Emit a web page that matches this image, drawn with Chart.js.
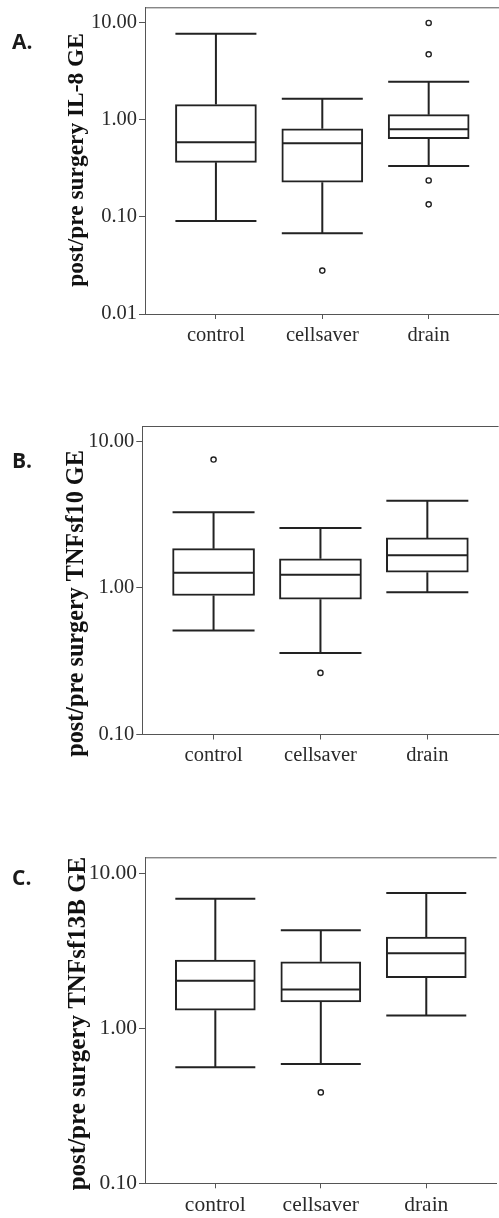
<!DOCTYPE html>
<html>
<head>
<meta charset="utf-8">
<script src="https://cdn.jsdelivr.net/npm/chart.js@4.4.1/dist/chart.umd.min.js"></script>
<style>
  html, body { margin: 0; padding: 0; background: #fff; }
  body { width: 499px; height: 1218px; overflow: hidden; position: relative; }
  canvas { position: absolute; left: 0; }
</style>
</head>
<body>
<canvas id="chartA" width="505" height="360" style="top:0px"></canvas>
<canvas id="chartB" width="504" height="381" style="top:400px"></canvas>
<canvas id="chartC" width="502" height="378" style="top:840px"></canvas>
<script>
const categories = ['control', 'cellsaver', 'drain'];
const ticksA = [0.01, 0.1, 1, 10];
const ticksBC = [0.1, 1, 10];

// A. IL-8
const il8Low = [0.091, 0.068, 0.336];
const il8Q1 = [0.366, 0.228, 0.64];
const il8Median = [0.59, 0.575, 0.80];
const il8Q3 = [1.44, 0.81, 1.135];
const il8High = [7.76, 1.65, 2.48];
const il8Outliers = [['cellsaver', 0.028], ['drain', 10.0], ['drain', 4.75], ['drain', 0.238], ['drain', 0.135]];

// B. TNFsf10
const tnf10Low = [0.512, 0.36, 0.934];
const tnf10Q1 = [0.887, 0.837, 1.28];
const tnf10Median = [1.27, 1.23, 1.67];
const tnf10Q3 = [1.85, 1.58, 2.19];
const tnf10High = [3.28, 2.56, 3.92];
const tnf10Outliers = [['control', 7.5], ['cellsaver', 0.263]];

// C. TNFsf13B
const tnf13bLow = [0.56, 0.589, 1.21];
const tnf13bQ1 = [1.31, 1.48, 2.12];
const tnf13bMedian = [2.03, 1.78, 3.05];
const tnf13bQ3 = [2.76, 2.69, 3.88];
const tnf13bHigh = [6.87, 4.29, 7.47];
const tnf13bOutliers = [['cellsaver', 0.386]];

const axisColor = '#555';
const lineColor = '#222';
const textColor = '#2a2a2a';

// whiskers, medians, top frame line, y title and panel letter
const boxExtras = {
  id: 'boxExtras',
  afterDatasetsDraw(chart, args, opts) {
    const {ctx, chartArea, scales: {x, y}} = chart;
    ctx.save();
    ctx.strokeStyle = axisColor;
    ctx.lineWidth = 1;
    ctx.beginPath();
    ctx.moveTo(chartArea.left, chartArea.top + 0.5);
    ctx.lineTo(chartArea.right, chartArea.top + 0.5);
    ctx.stroke();

    ctx.strokeStyle = lineColor;
    ctx.lineWidth = 2;
    const half = opts.boxWidth / 2;
    categories.forEach((c, i) => {
      const cx = x.getPixelForValue(i + 1);
      const pLow = y.getPixelForValue(opts.low[i]);
      const pQ1 = y.getPixelForValue(opts.q1[i]);
      const pMed = y.getPixelForValue(opts.median[i]);
      const pQ3 = y.getPixelForValue(opts.q3[i]);
      const pHigh = y.getPixelForValue(opts.high[i]);
      ctx.beginPath();
      ctx.moveTo(cx, pQ3); ctx.lineTo(cx, pHigh);
      ctx.moveTo(cx, pQ1); ctx.lineTo(cx, pLow);
      ctx.moveTo(cx - half, pHigh); ctx.lineTo(cx + half, pHigh);
      ctx.moveTo(cx - half, pLow); ctx.lineTo(cx + half, pLow);
      ctx.moveTo(cx - half + 1, pMed); ctx.lineTo(cx + half - 1, pMed);
      ctx.stroke();
    });

    ctx.fillStyle = '#111';
    ctx.font = 'bold ' + opts.titleSize + 'px "Liberation Serif"';
    ctx.textAlign = 'center';
    ctx.textBaseline = 'middle';
    ctx.translate(opts.titleX, opts.titleY);
    ctx.rotate(-Math.PI / 2);
    ctx.fillText(opts.title, 0, 0);
    ctx.restore();

    ctx.save();
    ctx.fillStyle = '#1a1a1a';
    ctx.font = 'bold 21px "Open Sans"';
    ctx.textAlign = 'left';
    ctx.textBaseline = 'alphabetic';
    ctx.fillText(opts.letter, 12, opts.letterY);
    ctx.restore();
  }
};

function makeChart(id, p) {
  const tickFont = {family: 'Liberation Serif', size: p.tickSize};
  return new Chart(document.getElementById(id), {
    type: 'bar',
    data: {
      datasets: [{
        data: categories.map((c, i) => ({x: i + 1, y: [p.q1[i], p.q3[i]]})),
        backgroundColor: '#fff',
        borderColor: lineColor,
        borderWidth: 2,
        borderSkipped: false,
        barThickness: p.boxWidth
      }, {
        type: 'scatter',
        data: p.outliers.map(o => ({x: categories.indexOf(o[0]) + 1, y: o[1]})),
        pointStyle: 'circle',
        pointRadius: 2.6,
        borderWidth: 1.4,
        borderColor: lineColor,
        backgroundColor: '#fff'
      }]
    },
    options: {
      responsive: false,
      animation: false,
      layout: {padding: {top: p.padTop, left: 0, right: 0, bottom: 0}},
      plugins: {
        legend: {display: false},
        tooltip: {enabled: false},
        boxExtras: p
      },
      scales: {
        x: {
          type: 'linear',
          min: 1 / 3,
          max: 11 / 3,
          offset: false,
          afterBuildTicks: s => { s.ticks = [1, 2, 3].map(v => ({value: v})); },
          afterFit: s => { s.height = p.xHeight; s.paddingLeft = 0; s.paddingRight = 0; },
          grid: {display: true, offset: false, drawOnChartArea: false, drawTicks: true, tickLength: 5, color: axisColor},
          border: {display: true, color: axisColor, width: 1},
          ticks: {
            padding: p.xPad,
            color: textColor,
            font: tickFont,
            maxRotation: 0,
            callback: v => categories[Math.round(v) - 1]
          }
        },
        y: {
          type: 'logarithmic',
          min: p.yMin,
          max: p.yMax,
          afterBuildTicks: s => { s.ticks = p.yTicks.map(v => ({value: v})); },
          afterFit: s => { s.width = p.yWidth; s.paddingTop = 0; s.paddingBottom = 0; },
          grid: {drawOnChartArea: false, drawTicks: true, tickLength: 6, color: axisColor},
          border: {display: true, color: axisColor, width: 1},
          ticks: {
            padding: 2,
            color: textColor,
            font: tickFont,
            callback: v => Number(v).toFixed(2)
          }
        }
      }
    },
    plugins: [boxExtras]
  });
}

makeChart('chartA', {
  low: il8Low, q1: il8Q1, median: il8Median, q3: il8Q3, high: il8High, outliers: il8Outliers,
  yMin: 0.01, yMax: 14.5, yTicks: ticksA,
  padTop: 7.3, yWidth: 145, xHeight: 46, xPad: 4, boxWidth: 81, tickSize: 20.5,
  title: 'post/pre surgery IL-8 GE', titleSize: 23.4, titleX: 77, titleY: 160,
  letter: 'A.', letterY: 48.5
});

makeChart('chartB', {
  low: tnf10Low, q1: tnf10Q1, median: tnf10Median, q3: tnf10Q3, high: tnf10High, outliers: tnf10Outliers,
  yMin: 0.1, yMax: 12.7, yTicks: ticksBC,
  padTop: 26, yWidth: 142.3, xHeight: 46.5, xPad: 4, boxWidth: 82, tickSize: 20.5,
  title: 'post/pre surgery TNFsf10 GE', titleSize: 24.2, titleX: 77, titleY: 203.5,
  letter: 'B.', letterY: 67.7
});

makeChart('chartC', {
  low: tnf13bLow, q1: tnf13bQ1, median: tnf13bMedian, q3: tnf13bQ3, high: tnf13bHigh, outliers: tnf13bOutliers,
  yMin: 0.1, yMax: 12.7, yTicks: ticksBC,
  padTop: 17.3, yWidth: 145, xHeight: 34.7, xPad: 4, boxWidth: 80, tickSize: 21.5,
  title: 'post/pre surgery TNFsf13B GE', titleSize: 25, titleX: 79, titleY: 183.5,
  letter: 'C.', letterY: 45
});
</script>
</body>
</html>
